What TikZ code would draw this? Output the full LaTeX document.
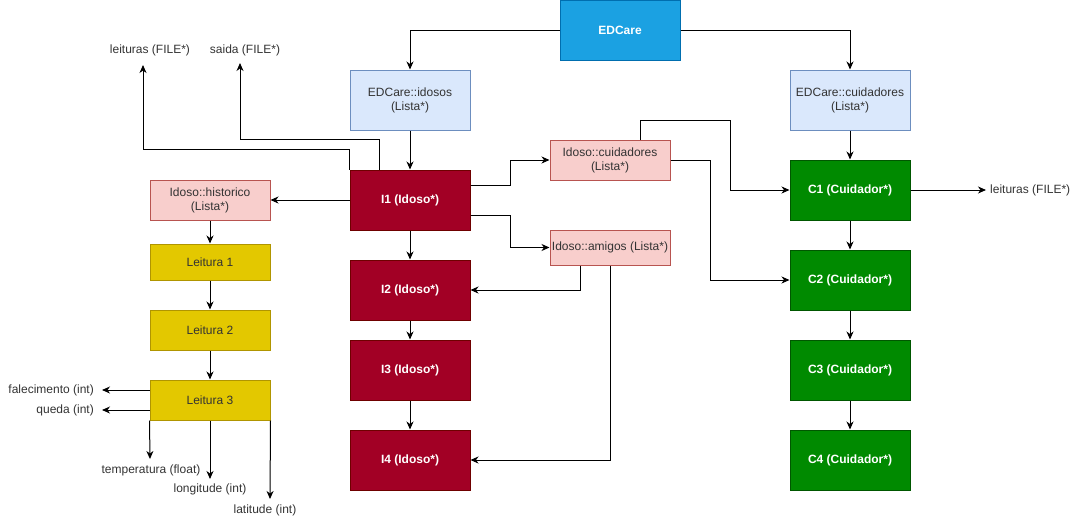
\documentclass[tikz,border=0pt]{standalone}
\usepackage{fontspec}
\setmainfont{Liberation Sans}
\usetikzlibrary{arrows.meta}
\definecolor{edfill}{HTML}{1BA1E2}\definecolor{eddraw}{HTML}{006EAF}
\definecolor{blfill}{HTML}{DAE8FC}\definecolor{bldraw}{HTML}{6C8EBF}
\definecolor{rdfill}{HTML}{A20025}\definecolor{rddraw}{HTML}{6F0000}
\definecolor{gnfill}{HTML}{008A00}\definecolor{gndraw}{HTML}{005700}
\definecolor{pkfill}{HTML}{F8CECC}\definecolor{pkdraw}{HTML}{B85450}
\definecolor{ylfill}{HTML}{E3C800}\definecolor{yldraw}{HTML}{B09500}
\definecolor{txt}{HTML}{333333}
\begin{document}
\begin{tikzpicture}[x=1pt,y=-1pt,
  every node/.style={font=\fontsize{12}{14}\selectfont},
  box/.style={draw, rectangle, inner sep=0pt, minimum width=120pt, align=center, line width=1pt},
  edbox/.style={box, fill=edfill, draw=eddraw, text=white, font=\fontsize{12}{14}\selectfont\bfseries, minimum height=60pt},
  blbox/.style={box, fill=blfill, draw=bldraw, text=txt, minimum height=60pt},
  rdbox/.style={box, fill=rdfill, draw=rddraw, text=white, font=\fontsize{12}{14}\selectfont\bfseries, minimum height=60pt},
  gnbox/.style={box, fill=gnfill, draw=gndraw, text=white, font=\fontsize{12}{14}\selectfont\bfseries, minimum height=60pt},
  pkbox/.style={box, fill=pkfill, draw=pkdraw, text=txt, minimum height=40pt},
  ylbox/.style={box, fill=ylfill, draw=yldraw, text=txt, minimum height=40pt},
  lbl/.style={text=txt, inner sep=0pt},
  arr/.style={draw=black, line width=1pt, -{Stealth[length=8pt,width=7pt,inset=2.5pt]}}
]
\useasboundingbox (0,0) rectangle (1081,522);

% nodes
\node[edbox] (ed) at (620,30) {EDCare};
\node[blbox] (ids) at (410,100) {EDCare::idosos\\(Lista*)};
\node[blbox] (cus) at (850,100) {EDCare::cuidadores\\(Lista*)};

\node[rdbox] (i1) at (410,200) {I1 (Idoso*)};
\node[rdbox] (i2) at (410,290) {I2 (Idoso*)};
\node[rdbox] (i3) at (410,370) {I3 (Idoso*)};
\node[rdbox] (i4) at (410,460) {I4 (Idoso*)};

\node[gnbox] (c1) at (850,190) {C1 (Cuidador*)};
\node[gnbox] (c2) at (850,280) {C2 (Cuidador*)};
\node[gnbox] (c3) at (850,370) {C3 (Cuidador*)};
\node[gnbox] (c4) at (850,460) {C4 (Cuidador*)};

\node[pkbox] (hist) at (210,200) {Idoso::historico\\(Lista*)};
\node[pkbox] (icu) at (610,160) {Idoso::cuidadores\\(Lista*)};
\node[pkbox, minimum height=35pt] (ami) at (610,247.5) {Idoso::amigos (Lista*)};

\node[ylbox, minimum height=36pt] (l1) at (210,262) {Leitura 1};
\node[ylbox] (l2) at (210,330) {Leitura 2};
\node[ylbox] (l3) at (210,400) {Leitura 3};

% labels
\node[lbl] (tleit) at (150,50) {leituras (FILE*)};
\node[lbl] (tsaida) at (245,50) {saida (FILE*)};
\node[lbl, anchor=west] (tcleit) at (990,190) {leituras (FILE*)};
\node[lbl, anchor=east] (tfal) at (94,390) {falecimento (int)};
\node[lbl, anchor=east] (tque) at (94,410) {queda (int)};
\node[lbl] (ttemp) at (151,470) {temperatura (float)};
\node[lbl] (tlong) at (210,489) {longitude (int)};
\node[lbl] (tlat) at (265,510) {latitude (int)};

% free ends
\coordinate (leittip) at (143,65);
\coordinate (saidatip) at (240,63);
\coordinate (cleittip) at (986,190);
\coordinate (faltip) at (102,390);
\coordinate (quetip) at (102,410);
\coordinate (temptip) at (150,459);
\coordinate (longtip) at (210,479);
\coordinate (lattip) at (270,499);
\coordinate (bendc1) at (730,120);

% connectors
\draw[arr] (ed.west) -| (ids.north);
\draw[arr] (ed.east) -| (cus.north);
\draw[arr] (ids.south) -- (i1.north);
\draw[arr] (cus.south) -- (c1.north);

\draw[arr] (i1.north west) -- ++(0,-20) -| (leittip);
\draw[arr] ([xshift=30pt]i1.north west) -- ++(0,-30) -| (saidatip);
\draw[arr] (i1.west) -- (hist.east);
\draw[arr] (hist.south) -- (l1.north);
\draw[arr] (l1.south) -- (l2.north);
\draw[arr] (l2.south) -- (l3.north);

\draw[arr] ([yshift=10pt]l3.west) -- (faltip);
\draw[arr] ([yshift=-10pt]l3.west) -- (quetip);
\draw[arr] (l3.south west) -- (temptip);
\draw[arr] (l3.south) -- (longtip);
\draw[arr] (l3.south east) -- (lattip);

\draw[arr] ([yshift=15pt]i1.east) -- ++(40,0) |- (icu.west);
\draw[arr] ([yshift=-15pt]i1.east) -- ++(40,0) |- (ami.west);
\draw[arr] ([xshift=30pt]icu.north) |- (bendc1) |- (c1.west);
\draw[arr] (icu.east) -- ++(40,0) |- (c2.west);
\draw[arr] ([xshift=-30pt]ami.south) |- (i2.east);
\draw[arr] (ami.south) |- (i4.east);

\draw[arr] (i1.south) -- (i2.north);
\draw[arr] (i2.south) -- (i3.north);
\draw[arr] (i3.south) -- (i4.north);

\draw[arr] (c1.south) -- (c2.north);
\draw[arr] (c2.south) -- (c3.north);
\draw[arr] (c3.south) -- (c4.north);
\draw[arr] (c1.east) -- (cleittip);
\end{tikzpicture}
\end{document}
